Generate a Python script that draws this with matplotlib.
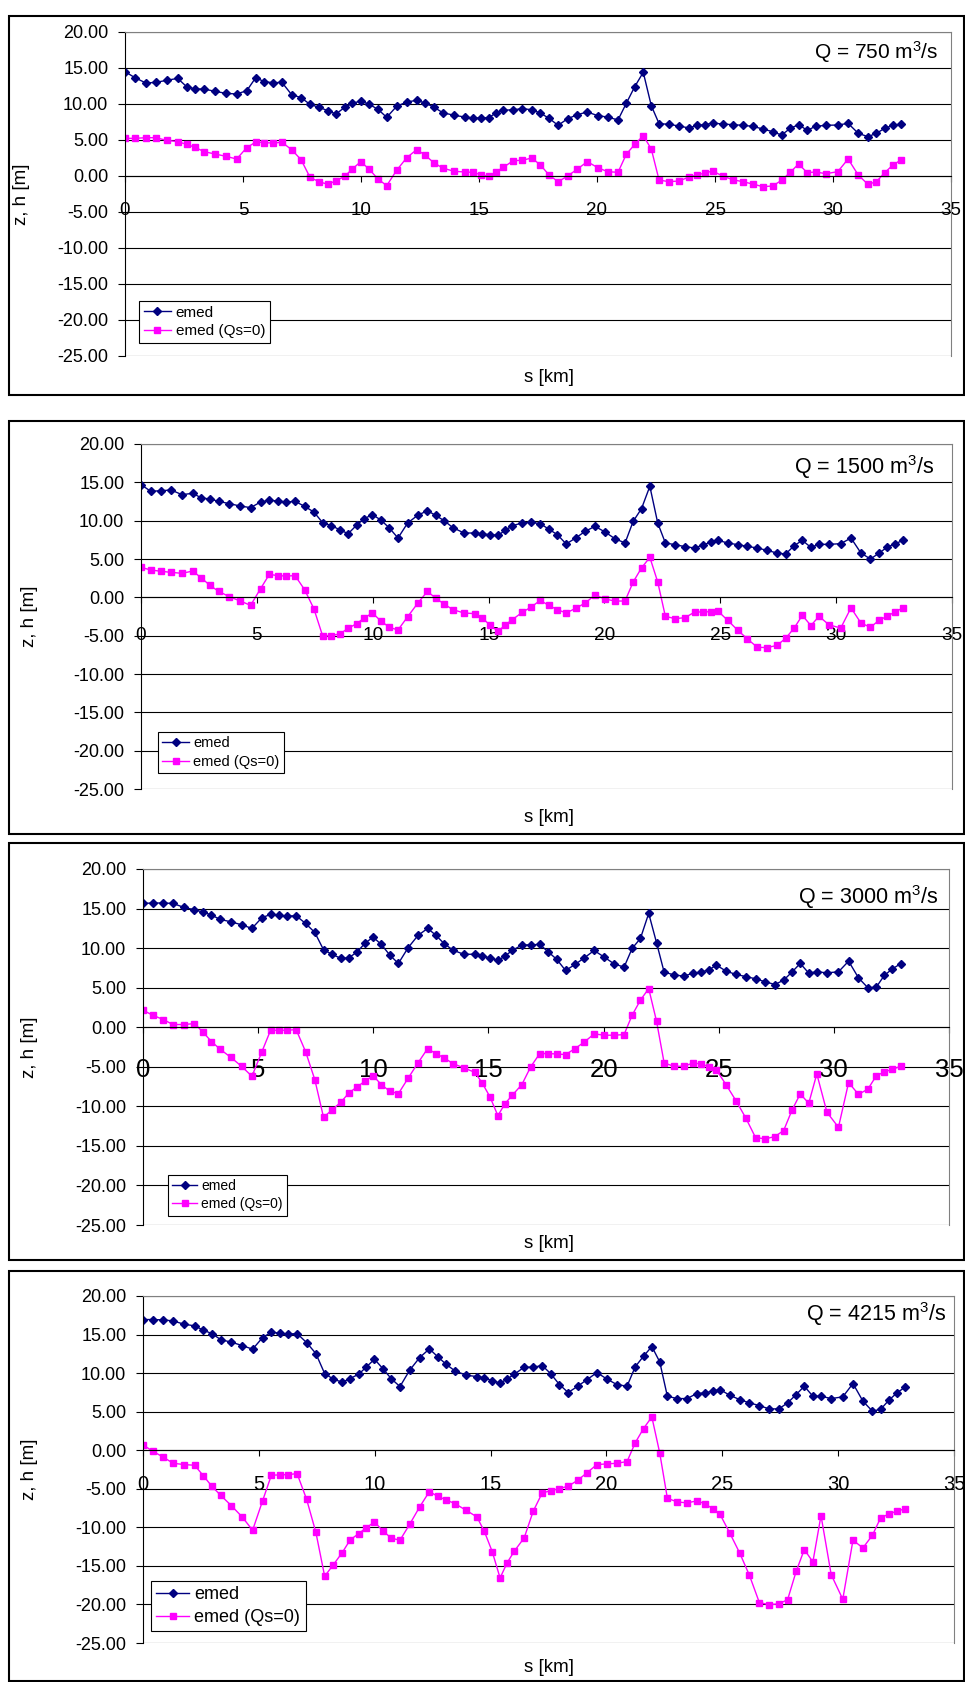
import matplotlib
matplotlib.use("Agg")
import matplotlib.pyplot as plt
from matplotlib.patches import Rectangle

plt.rcParams['font.family'] = ['Liberation Sans', 'DejaVu Sans']
# keep the Q labels (with the m^3 superscript) in the same face as the rest
plt.rcParams['mathtext.fontset'] = 'custom'
plt.rcParams['mathtext.rm'] = 'Liberation Sans'
plt.rcParams['mathtext.it'] = 'Liberation Sans:italic'
plt.rcParams['mathtext.bf'] = 'Liberation Sans:bold'
plt.rcParams['mathtext.default'] = 'regular'

# chainage of the cross sections [km]
s_km = [0.00, 0.42, 0.88, 1.30, 1.77, 2.23, 2.61, 2.97, 3.35, 3.81, 4.28, 4.73,
        5.16, 5.54, 5.90, 6.27, 6.65, 7.06, 7.46, 7.84, 8.22, 8.60, 8.94, 9.31, 9.63, 9.99,
        10.35, 10.72, 11.09, 11.51, 11.94, 12.36, 12.71, 13.08, 13.46, 13.94, 14.41, 14.73,
        15.07, 15.41, 15.72, 16.03, 16.45, 16.84, 17.23, 17.59, 17.97, 18.35, 18.76, 19.17, 19.59,
        20.03, 20.45, 20.89, 21.24, 21.60, 21.96, 22.30, 22.63, 23.05, 23.48, 23.90, 24.24, 24.58, 24.90,
        25.32, 25.75, 26.17, 26.60, 27.02, 27.44, 27.82, 28.19, 28.54, 28.91, 29.26, 29.70,
        30.20, 30.64, 31.07, 31.48, 31.84, 32.19, 32.54, 32.90]

discharges = ['750', '1500', '3000', '4215']

# mean bed level, Q = 750
emed_750 = [14.49, 13.66, 12.92, 13.00, 13.29, 13.56, 12.41, 12.08, 12.08, 11.76, 11.48, 11.39,
            11.85, 13.66, 13.10, 12.96, 13.00, 11.30, 10.88, 9.95, 9.54, 9.07, 8.61, 9.54, 10.09, 10.42,
            9.95, 9.26, 8.15, 9.68, 10.28, 10.51, 10.14, 9.58, 8.80, 8.43, 8.19, 8.06,
            8.06, 8.10, 8.75, 9.12, 9.21, 9.35, 9.21, 8.75, 8.01, 7.04, 7.96, 8.52, 8.89,
            8.38, 8.19, 7.78, 10.09, 12.41, 14.40, 9.77, 7.27, 7.18, 6.94, 6.67, 7.04, 7.13, 7.36,
            7.22, 7.13, 7.04, 6.90, 6.53, 6.16, 5.69, 6.62, 7.13, 6.34, 6.90, 7.04,
            7.08, 7.31, 5.93, 5.46, 5.93, 6.62, 7.04, 7.22]
emed0_750 = [5.23, 5.23, 5.32, 5.32, 4.95, 4.77, 4.40, 3.98, 3.38, 3.06, 2.73, 2.36,
             3.94, 4.72, 4.63, 4.58, 4.68, 3.66, 2.27, -0.19, -0.79, -1.16, -0.65, -0.05, 0.97, 1.99,
             0.93, -0.42, -1.34, 0.79, 2.55, 3.66, 2.92, 1.85, 1.11, 0.65, 0.56, 0.51,
             0.19, -0.05, 0.56, 1.20, 2.13, 2.18, 2.50, 1.57, 0.14, -0.79, 0.00, 0.97, 1.99,
             1.16, 0.60, 0.51, 3.01, 4.40, 5.60, 3.75, -0.56, -0.79, -0.69, -0.14, 0.14, 0.42, 0.69,
             0.00, -0.51, -0.79, -1.11, -1.48, -1.39, -0.60, 0.51, 1.67, 0.46, 0.56, 0.32,
             0.60, 2.36, 0.14, -1.16, -0.79, 0.46, 1.53, 2.27]

# Q = 1500
emed_1500 = [14.70, 13.83, 13.91, 14.00, 13.39, 13.57, 12.96, 12.83, 12.52, 12.22, 11.91, 11.70,
             12.43, 12.65, 12.57, 12.43, 12.52, 11.87, 11.13, 9.74, 9.35, 8.78, 8.30, 9.43, 10.26, 10.78,
             10.09, 9.04, 7.74, 9.70, 10.70, 11.30, 10.70, 10.00, 9.09, 8.39, 8.39, 8.26,
             8.17, 8.09, 8.74, 9.35, 9.70, 9.78, 9.61, 8.91, 8.17, 6.96, 7.74, 8.61, 9.26,
             8.52, 7.65, 7.09, 9.91, 11.57, 14.48, 9.70, 7.09, 6.87, 6.61, 6.43, 6.83, 7.17, 7.43,
             7.09, 6.87, 6.65, 6.43, 6.13, 5.78, 5.65, 6.74, 7.43, 6.52, 6.91, 6.91,
             7.00, 7.74, 5.78, 5.00, 5.74, 6.52, 7.00, 7.43]
emed0_1500 = [3.91, 3.57, 3.39, 3.26, 3.13, 3.43, 2.52, 1.57, 0.78, 0.09, -0.48, -1.04,
              1.13, 3.00, 2.83, 2.78, 2.83, 1.00, -1.48, -5.04, -5.00, -4.74, -4.04, -3.43, -2.70, -2.04,
              -3.09, -3.91, -4.26, -2.52, -0.78, 0.78, -0.09, -0.87, -1.61, -2.04, -2.13, -2.70,
              -3.65, -4.43, -3.60, -2.90, -1.96, -1.26, -0.39, -1.04, -1.61, -2.04, -1.43, -0.74, 0.30,
              -0.22, -0.48, -0.48, 2.00, 3.83, 5.22, 2.00, -2.48, -2.78, -2.65, -1.91, -1.91, -1.87, -1.80,
              -3.00, -4.28, -5.43, -6.52, -6.55, -6.28, -5.35, -4.00, -2.35, -3.68, -2.48, -3.60,
              -4.00, -1.37, -3.35, -3.91, -3.02, -2.48, -1.91, -1.35]

# Q = 3000
emed_3000 = [15.65, 15.70, 15.70, 15.65, 15.15, 14.85, 14.56, 14.18, 13.63, 13.33, 12.95, 12.49,
             13.84, 14.26, 14.14, 14.05, 14.09, 13.12, 11.98, 9.79, 9.20, 8.69, 8.78, 9.54, 10.59, 11.39,
             10.46, 9.11, 8.06, 10.04, 11.60, 12.49, 11.65, 10.55, 9.75, 9.20, 9.24, 8.95,
             8.78, 8.44, 8.99, 9.70, 10.38, 10.42, 10.46, 9.54, 8.57, 7.17, 7.93, 8.78, 9.70,
             8.86, 8.02, 7.59, 9.96, 11.22, 14.39, 10.68, 6.96, 6.62, 6.46, 6.84, 6.96, 7.26, 7.85,
             7.09, 6.67, 6.41, 6.12, 5.74, 5.40, 5.95, 7.00, 8.06, 6.84, 7.00, 6.88,
             7.00, 8.35, 6.24, 4.98, 5.06, 6.54, 7.38, 8.02]
emed0_3000 = [2.15, 1.52, 0.97, 0.34, 0.34, 0.46, -0.63, -1.81, -2.78, -3.80, -4.94, -6.20,
              -3.12, -0.38, -0.38, -0.38, -0.30, -3.08, -6.62, -11.39, -10.42, -9.45, -8.31, -7.51, -6.84, -6.12,
              -7.26, -8.10, -8.40, -6.46, -4.51, -2.70, -3.33, -3.88, -4.60, -5.15, -5.70, -7.05,
              -8.82, -11.18, -9.66, -8.61, -7.26, -4.98, -3.33, -3.33, -3.38, -3.46, -2.70, -1.86, -0.84,
              -1.01, -1.01, -0.93, 1.52, 3.42, 4.89, 0.76, -4.51, -4.94, -4.94, -4.51, -4.66, -5.00, -5.40,
              -7.27, -9.29, -11.44, -13.95, -14.11, -13.82, -13.06, -10.43, -8.43, -9.61, -5.90, -10.75,
              -12.65, -6.99, -8.49, -7.82, -6.15, -5.65, -5.32, -4.94]

# Q = 4215
emed_4215 = [16.95, 16.95, 16.90, 16.77, 16.34, 16.13, 15.56, 15.13, 14.35, 14.01, 13.58, 13.10,
             14.61, 15.30, 15.18, 15.05, 15.13, 13.96, 12.54, 9.94, 9.21, 8.82, 9.30, 9.86, 10.77, 11.80,
             10.59, 9.25, 8.26, 10.38, 12.02, 13.14, 12.15, 11.15, 10.29, 9.73, 9.55, 9.38,
             9.04, 8.69, 9.25, 9.86, 10.77, 10.77, 10.98, 9.94, 8.52, 7.48, 8.30, 9.17, 10.07,
             9.21, 8.52, 8.30, 10.81, 12.19, 13.45, 11.46, 7.00, 6.70, 6.70, 7.35, 7.44, 7.65, 7.87,
             7.13, 6.57, 6.14, 5.79, 5.36, 5.36, 6.14, 7.22, 8.30, 7.00, 7.00, 6.70,
             6.92, 8.65, 6.36, 5.06, 5.32, 6.49, 7.44, 8.21]
emed0_4215 = [0.69, -0.13, -0.91, -1.69, -1.86, -1.95, -3.33, -4.67, -5.84, -7.18, -8.65, -10.38,
              -6.57, -3.24, -3.20, -3.16, -3.03, -6.36, -10.64, -16.34, -14.83, -13.27, -11.63, -10.81, -10.07, -9.30,
              -10.46, -11.41, -11.67, -9.60, -7.35, -5.36, -5.97, -6.44, -6.92, -7.78, -8.65, -10.51,
              -13.14, -16.56, -14.57, -13.06, -11.37, -7.91, -5.53, -5.27, -4.97, -4.67, -3.89, -2.90, -1.86,
              -1.77, -1.69, -1.47, 0.95, 2.81, 4.32, -0.35, -6.23, -6.70, -6.83, -6.57, -6.92, -7.57, -8.30,
              -10.72, -13.32, -16.21, -19.76, -20.02, -19.93, -19.37, -15.69, -12.88, -14.48, -8.47, -16.13,
              -19.33, -11.67, -12.67, -11.02, -8.73, -8.30, -7.87, -7.61]

emed_all = [emed_750, emed_1500, emed_3000, emed_4215]
emed0_all = [emed0_750, emed0_1500, emed0_3000, emed0_4215]

yticks = list(range(-25, 21, 5))
xticks = list(range(0, 36, 5))

W, H = 965, 1682
fig = plt.figure(figsize=(W / 100, H / 100), dpi=100)

# pixel layout of the four charts (top to bottom)
frames = [(9, 16, 964, 395), (9, 421, 964, 834), (9, 843, 964, 1260), (9, 1271, 964, 1681)]
plot_boxes = [(125, 32, 951, 356), (141, 444, 952, 789), (143, 869, 949, 1225), (143, 1296, 954, 1643)]
xtick_sizes = [13.5, 13.7, 18.5, 14.5]
xtick_pads = [14.5, 17, 18, 13.8]
legend_corner = [(139, 301), (158, 732), (168, 1175), (151, 1581)]
legend_sizes = [11, 10.5, 10, 13]
q_pos = [(938, 52, 15), (934, 467, 15.5), (938, 897, 15.5), (946, 1314, 15.5)]
ylabel_x = [21, 30, 30, 30]
xlabel_y = [377, 818, 1244, 1667]


def fx(px):
    return px / W


def fy(py):
    return 1 - py / H


for i in range(4):
    # border around each chart
    x0, y0, x1, y1 = frames[i]
    fig.patches.append(Rectangle((fx(x0), fy(y1)), (x1 - x0) / W, (y1 - y0) / H,
                                 transform=fig.transFigure, fill=False, ec='black', lw=1.5))

    l, t, r, b = plot_boxes[i]
    ax = fig.add_axes([fx(l), fy(b), (r - l) / W, (b - t) / H])
    ax.plot(s_km, emed_all[i], color='#000080', marker='D', ms=4.5, lw=1, label='emed')
    ax.plot(s_km, emed0_all[i], color='#FF00FF', marker='s', ms=5, lw=1, label='emed (Qs=0)')

    ax.set_xlim(0, 35)
    ax.set_ylim(-25, 20)
    ax.set_xticks(xticks)
    ax.set_yticks(yticks)
    ax.set_yticklabels(['%.2f' % v for v in yticks])
    ax.set_axisbelow(True)
    ax.yaxis.grid(True, color='black', lw=0.8)

    # x axis crosses at zero, like the spreadsheet chart
    ax.spines['bottom'].set_position(('data', 0))
    ax.spines['bottom'].set_color('black')
    ax.spines['left'].set_color('black')
    ax.spines['top'].set_color('#808080')
    ax.spines['right'].set_color('#808080')
    ax.tick_params(axis='y', direction='out', length=5, width=0.8, labelsize=13, pad=7)
    ax.tick_params(axis='x', direction='out', length=4, width=0.8,
                   labelsize=xtick_sizes[i], pad=xtick_pads[i])

    lx, ly = legend_corner[i]
    leg = ax.legend(loc='upper left', bbox_to_anchor=(fx(lx), fy(ly)),
                    bbox_transform=fig.transFigure, fontsize=legend_sizes[i],
                    frameon=True, fancybox=False, edgecolor='black', framealpha=1,
                    borderpad=0.3, labelspacing=0.3, handlelength=1.8, handletextpad=0.3,
                    borderaxespad=0)
    leg.get_frame().set_linewidth(0.8)

    qx, qy, qs = q_pos[i]
    fig.text(fx(qx), fy(qy), 'Q = ' + discharges[i] + ' m$^3$/s', ha='right', va='center', fontsize=qs)

    fig.text(fx(ylabel_x[i]), fy((t + b) / 2), 'z, h [m]', rotation=90, ha='center', va='center', fontsize=13.5)
    fig.text(fx(549), fy(xlabel_y[i]), 's [km]', ha='center', va='center', fontsize=13.5)

fig.savefig('out.png', dpi=100)
